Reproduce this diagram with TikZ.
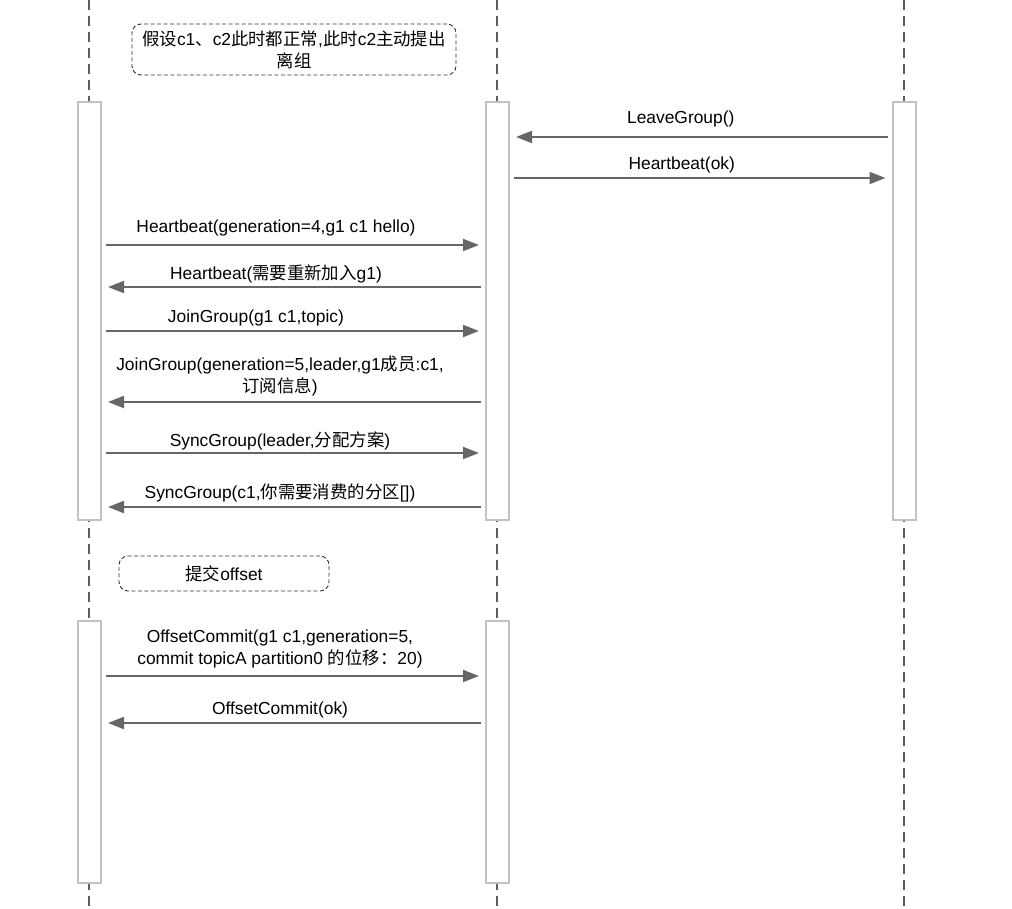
\documentclass[tikz,border=0pt]{standalone}
\usepackage{fontspec}
\setmainfont{Liberation Sans}
\newfontfamily\cjk{Noto Sans CJK SC}
\newcommand{\zh}[1]{{\cjk #1}}
\usepackage{tikz}
\usetikzlibrary{arrows.meta}
\definecolor{lifegray}{HTML}{5E5E5E}
\definecolor{boxgray}{HTML}{C2C2C2}
\definecolor{msggray}{HTML}{666666}
\tikzset{
  life/.style={draw=lifegray, line width=2pt, dash pattern=on 10pt off 6pt},
  act/.style={draw=boxgray, fill=white, line width=2pt, minimum width=23pt, inner sep=0pt},
  note/.style={draw=black!80, line width=0.9pt, dash pattern=on 4pt off 2.5pt, rounded corners=9pt, align=center, inner sep=0pt},
  msg/.style={draw=msggray, line width=2pt, -{Triangle[length=16pt,width=12pt]}, shorten <=4pt, shorten >=6pt},
  lbl/.style={inner sep=0pt, text depth=0pt, align=center}
}

\begin{document}
\begin{tikzpicture}[x=1pt, y=-1pt, every node/.style={font=\fontsize{17.4}{22}\selectfont}]
  \useasboundingbox (0,0) rectangle (1012,908);

  % lifelines
  \draw[life] (89,0) -- (89,908);
  \draw[life] (497,0) -- (497,908);
  \draw[life] (904,0) -- (904,908);

  % activation boxes
  \node[act, minimum height=418pt] (c1a) at (89.5,311) {};
  \node[act, minimum height=418pt] (coa) at (497.5,311) {};
  \node[act, minimum height=418pt] (c2a) at (904,311) {};
  \node[act, minimum height=262pt] (c1b) at (89.5,752) {};
  \node[act, minimum height=262pt] (cob) at (497.5,752) {};

  % notes
  \node[note, minimum width=324pt, minimum height=51pt] (leave) at (294,49.5)
    {\zh{假设}c1\zh{、}c2\zh{此时都正常},\zh{此时}c2\zh{主动提出}\\\zh{离组}};
  \node[note, minimum width=210pt, minimum height=35pt] (commit) at (224,573.5)
    {\zh{提交}offset};

  % message rows
  \coordinate (r1) at (0,137);
  \coordinate (r2) at (0,178);
  \coordinate (r3) at (0,245);
  \coordinate (r4) at (0,287);
  \coordinate (r5) at (0,331);
  \coordinate (r6) at (0,402);
  \coordinate (r7) at (0,453);
  \coordinate (r8) at (0,507);
  \coordinate (r9) at (0,676);
  \coordinate (r10) at (0,723);

  \draw[msg] (c2a.west |- r1) -- node[lbl, above=12.5pt, xshift=-20pt] {LeaveGroup()} (coa.east |- r1);
  \draw[msg] (coa.east |- r2) -- node[lbl, above=8pt, xshift=-19pt] {Heartbeat(ok)} (c2a.west |- r2);

  \draw[msg] (c1a.east |- r3) -- node[lbl, above=12pt, xshift=-17.5pt] {Heartbeat(generation=4,g1 c1 hello)} (coa.west |- r3);
  \draw[msg] (coa.west |- r4) -- node[lbl, above=6.5pt, xshift=-17.5pt] {Heartbeat(\zh{需要重新加入}g1)} (c1a.east |- r4);
  \draw[msg] (c1a.east |- r5) -- node[lbl, above=7.5pt, xshift=-37.5pt] {JoinGroup(g1 c1,topic)} (coa.west |- r5);
  \draw[msg] (coa.west |- r6) -- node[lbl, above=9pt, xshift=-13.5pt] {JoinGroup(generation=5,leader,g1\zh{成员}:c1,\\\zh{订阅信息})} (c1a.east |- r6);
  \draw[msg] (c1a.east |- r7) -- node[lbl, above=6pt, xshift=-13.5pt] {SyncGroup(leader,\zh{分配方案})} (coa.west |- r7);
  \draw[msg] (coa.west |- r8) -- node[lbl, above=8pt, xshift=-13.5pt] {SyncGroup(c1,\zh{你需要消费的分区}[])} (c1a.east |- r8);

  \draw[msg] (c1b.east |- r9) -- node[lbl, above=11pt, xshift=-13.5pt] {OffsetCommit(g1 c1,generation=5,\\commit topicA partition0 \zh{的位移：}20)} (cob.west |- r9);
  \draw[msg] (cob.west |- r10) -- node[lbl, above=8pt, xshift=-13.5pt] {OffsetCommit(ok)} (c1b.east |- r10);
\end{tikzpicture}
\end{document}
